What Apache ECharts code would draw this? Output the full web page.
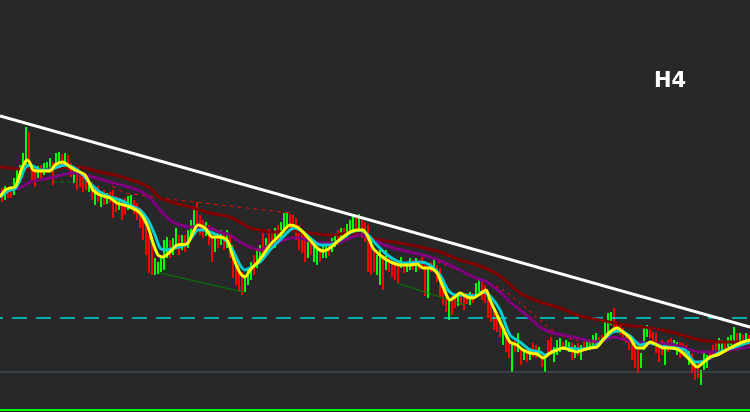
<!DOCTYPE html>
<html>
<head>
<meta charset="utf-8">
<script src="https://cdn.jsdelivr.net/npm/echarts@6/dist/echarts.min.js"></script>
<style>
html,body{margin:0;padding:0;background:#282828;}
#chart{width:750px;height:412px;}
</style>
</head>
<body>
<div id="chart"></div>
<script>
// Price levels are expressed in chart units (inverted axis: smaller = higher price)
const barHigh = [188,186,190,187,178,170,165,153,127,132, 165,168,166,165,163,162,158,162,153,152,
  154,153,155,163,168,170,172,175,178,180, 182,190,186,192,190,193,192,190,196,198,
  200,198,196,195,200,203,208,212,225,235, 240,258,262,258,240,237,240,238,228,235,
  235,235,230,220,210,202,215,220,222,225, 235,238,232,230,233,230,235,245,255,262,
  272,275,268,262,255,250,245,233,238,229, 232,228,225,222,213,212,214,215,218,225,
  230,233,240,238,245,250,248,243,245,243, 238,233,230,228,228,224,220,216,215,214,
  220,222,225,240,250,255,250,255,250,255, 262,263,262,257,262,262,258,260,258,260,
  257,265,268,262,258,265,268,285,292,298, 296,298,294,292,295,293,292,293,283,278,
  282,285,295,303,310,315,318,330,335,340, 343,340,333,348,350,346,348,343,345,347,
  352,358,340,337,347,340,338,342,340,342, 343,345,343,345,342,340,340,335,333,337,
  335,320,313,312,308,322,325,328,333,337, 343,345,350,353,327,325,328,332,333,343,
  340,347,340,338,340,342,342,343,345,348, 353,360,362,370,353,355,350,345,343,338,
  340,342,337,335,327,333,333,335,333,335];
const barLow = [202,200,198,198,195,188,183,168,165,165, 182,187,178,178,175,172,170,185,165,163,
  166,165,170,177,183,190,187,192,190,192, 200,205,202,207,205,204,203,218,212,210,
  220,215,210,208,214,220,228,240,255,273, 275,275,274,272,270,258,258,255,248,255,
  250,252,248,240,232,225,235,238,236,245, 262,252,248,245,250,248,258,278,285,292,
  295,292,285,280,275,268,262,258,255,248, 250,248,242,240,233,228,230,232,240,250,
  253,262,258,255,262,265,262,258,258,256, 252,247,245,242,240,238,233,230,235,230,
  238,242,272,275,272,275,285,290,270,272, 277,280,283,268,273,272,270,270,272,270,
  268,296,298,272,270,282,297,305,312,320, 315,308,306,305,310,304,305,303,298,292,
  300,303,318,322,330,332,337,345,352,358, 372,352,352,365,360,362,360,357,358,356,
  367,372,353,355,362,355,352,350,350,352, 360,358,356,360,350,348,350,347,345,345,
  343,338,336,325,327,333,335,341,343,350, 360,368,373,368,350,337,338,345,353,362,
  355,365,352,350,350,355,358,356,358,365, 373,380,378,385,370,368,360,357,353,352,
  350,352,347,345,343,348,343,345,342,345];
const barUp = [0,1,0,0,1,1,1,1,1,0, 0,0,1,0,1,1,1,0,1,1,
  0,1,0,0,1,0,0,0,0,1, 0,1,0,1,0,1,0,0,0,1,
  0,0,1,1,0,0,0,0,0,0, 0,1,1,1,1,1,0,1,1,0,
  1,0,1,1,1,0,0,0,1,0, 0,1,0,1,0,1,0,0,0,0,
  0,1,1,1,0,1,1,0,1,0, 0,1,0,1,1,1,0,0,0,0,
  0,0,1,0,1,1,0,1,1,0, 1,1,0,1,0,1,1,1,0,1,
  0,0,0,0,0,1,1,0,1,0, 0,0,0,1,0,1,1,0,1,0,
  0,0,1,0,1,0,0,0,0,1, 0,0,1,0,0,0,1,0,1,1,
  0,0,0,0,0,0,0,1,0,0, 1,0,1,0,1,0,1,0,0,1,
  0,1,0,0,1,1,1,0,1,1, 0,1,0,1,0,1,1,1,1,0,
  0,1,1,1,0,0,0,0,0,0, 0,0,0,1,1,1,0,0,0,0,
  0,1,0,0,1,1,0,0,0,1, 0,0,0,1,1,1,0,0,0,1,
  1,0,1,1,1,0,1,0,1,0];
const BAR_STEP = 3;

// Moving averages [time, level]
const maFast = [[0,197],[5,190],[10,188],[15,187],[18,180],[22,168],[27,160],[30,163],[33,170],[40,171],[50,171],[55,165],[63,162],[70,167],[75,170],[85,175],[93,190],[100,195],[110,198],[117,203],[130,207],[140,213],[148,227],[153,243],[158,255],[163,257],[170,252],[177,245],[187,244],[193,232],[198,225],[205,228],[212,237],[220,237],[227,240],[233,257],[240,273],[245,277],[250,270],[257,263],[263,255],[270,245],[280,235],[290,225],[297,227],[303,232],[310,240],[317,248],[323,251],[330,248],[337,242],[343,237],[350,232],[357,230],[363,230],[368,237],[373,248],[380,255],[387,260],[393,263],[400,265],[410,265],[417,264],[423,268],[430,268],[437,273],[443,287],[450,300],[455,297],[460,293],[467,297],[473,298],[480,294],[486,290],[490,300],[497,315],[503,328],[510,342],[517,345],[523,350],[530,353],[537,354],[543,358],[550,353],[557,350],[563,348],[570,350],[577,352],[583,350],[590,348],[597,347],[603,340],[610,332],[617,328],[623,332],[630,338],[637,348],[643,348],[650,342],[657,345],[663,348],[670,348],[677,349],[683,353],[690,360],[697,367],[703,363],[710,357],[717,355],[723,352],[730,348],[740,343],[750,340]];
const maSignal = [[0,197],[5,193],[10,190],[15,189],[20,180],[25,168],[30,165],[35,167],[40,170],[50,170],[55,168],[65,165],[73,167],[80,172],[90,183],[100,192],[110,197],[120,200],[130,205],[140,210],[148,220],[155,235],[160,248],[165,250],[175,248],[185,245],[192,237],[198,230],[205,230],[212,233],[220,236],[230,245],[240,265],[245,270],[250,268],[260,262],[270,250],[280,240],[290,230],[295,228],[303,232],[310,238],[320,245],[330,245],[340,240],[350,233],[360,230],[368,235],[375,243],[385,253],[395,260],[405,263],[420,262],[430,265],[440,275],[448,290],[455,295],[465,295],[475,296],[483,292],[490,296],[500,310],[510,335],[520,342],[530,350],[540,352],[545,355],[555,350],[565,348],[580,349],[595,346],[605,338],[613,332],[620,331],[630,336],[640,345],[650,343],[660,346],[675,348],[685,350],[695,362],[700,362],[710,358],[720,352],[735,347],[750,342]];
const maMid = [[0,192],[20,188],[30,182],[50,178],[65,174],[75,173],[85,175],[100,179],[110,182],[125,186],[140,191],[150,198],[160,210],[170,220],[180,225],[190,227],[200,227],[210,228],[220,232],[230,235],[240,242],[250,247],[260,250],[270,245],[280,242],[290,238],[300,238],[310,241],[320,243],[330,243],[340,242],[350,238],[360,235],[367,237],[380,243],[393,248],[410,252],[430,257],[443,262],[460,270],[473,277],[487,282],[500,292],[510,302],[520,310],[530,318],[540,327],[550,332],[563,335],[577,338],[590,341],[600,342],[613,337],[623,339],[633,342],[650,343],[675,345],[700,352],[717,352],[730,350],[750,347]];
const maSlow = [[0,167],[20,169],[40,170],[60,168],[75,167],[85,168],[100,172],[115,175],[125,178],[140,183],[150,188],[160,198],[175,203],[190,207],[210,213],[230,217],[245,225],[250,228],[260,230],[270,232],[280,232],[290,230],[300,232],[310,233],[330,235],[350,233],[360,235],[380,240],[400,243],[420,247],[440,252],[460,260],[480,266],[500,276],[520,293],[540,302],[560,308],[580,316],[600,320],[625,325],[650,328],[675,333],[700,340],[725,342],[750,342]];

// Drawn objects
const trendLine = [[0,116],[750,327]];
const redChannel1 = [[112,186],[125,193],[160,198],[290,213]];
const redChannel2 = [[438,262],[500,288],[520,303],[560,335],[597,345]];
const greenLine1 = [[53,182],[87,182]];
const greenLine2 = [[160,273],[243,292]];
const greenLine3 = [[397,283],[465,305]];
const levelCyan = 318;
const levelGray = 372;
const levelGreen = 410;
const timeframe = 'H4';

const chart = echarts.init(document.getElementById('chart'), null, {renderer:'canvas'});
const bars = barHigh.map((h, i) => [i * BAR_STEP + 1.5, h, barLow[i], barUp[i]]);
function lineSeries(data, color, width, extra) {
  return Object.assign({type:'line', data, showSymbol:false, symbol:'none', silent:true,
    lineStyle:{color, width}, animation:false}, extra || {});
}
chart.setOption({
  backgroundColor:'#282828',
  animation:false,
  grid:{left:0,right:0,top:0,bottom:0},
  xAxis:{type:'value', min:0, max:750, show:false},
  yAxis:{type:'value', min:0, max:412, inverse:true, show:false},
  graphic:[{type:'text', left:654, top:71, style:{text:timeframe, fill:'#ffffff', font:'bold 21px "DejaVu Sans"'}}],
  series:[
    lineSeries([[0,levelGray],[750,levelGray]], '#4b5a6a', 1),
    lineSeries([[0,levelGreen],[750,levelGreen]], '#00ff00', 2),
    lineSeries([[0,levelCyan],[750,levelCyan]], '#00d8e0', 1.5, {lineStyle:{color:'#00d8e0', width:1.5, type:[15,9], dashOffset:12}}),
    lineSeries(greenLine1, '#008000', 1, {lineStyle:{color:'#008000', width:1, type:[4,3]}}),
    lineSeries(greenLine2, '#008000', 1),
    lineSeries(greenLine3, '#008000', 1),
    lineSeries(redChannel1, '#ff0000', 1, {lineStyle:{color:'#ff0000', width:1, type:[4,4]}}),
    lineSeries(redChannel2, '#ff0000', 1, {smooth:0.3, lineStyle:{color:'#ff0000', width:1.5, type:[2,5]}}),
    {type:'custom', data:bars, encode:{x:0, y:[1,2]}, animation:false, silent:true,
      renderItem:function(params, api){
        const x = api.value(0);
        const p1 = api.coord([x, api.value(1)]);
        const p2 = api.coord([x, api.value(2)]);
        return {type:'rect', shape:{x:Math.round(p1[0]) - 1, y:Math.round(p1[1]), width:2, height:Math.round(p2[1]-p1[1])},
          style:{fill: api.value(3) ? '#00ff00' : '#ff0000'}};
      }},
    lineSeries(maSlow, '#800000', 3, {smooth:0.25}),
    lineSeries(maMid, '#800080', 3, {smooth:0.25}),
    lineSeries(maSignal, '#00ced1', 3, {smooth:0.25}),
    lineSeries(maFast, '#ffff00', 3, {smooth:0.25}),
    lineSeries(trendLine, '#ffffff', 3)
  ]
});
</script>
</body>
</html>
